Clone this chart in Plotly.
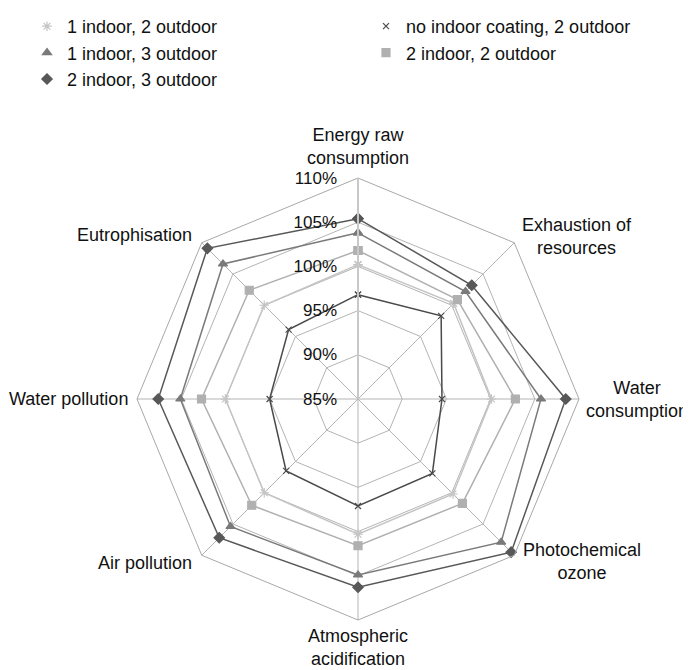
import plotly.graph_objects as go

categories = ["Energy raw consumption", "Exhaustion of resources", "Water consumption",
              "Photochemical ozone", "Atmospheric acidification", "Air pollution",
              "Water pollution", "Eutrophisation"]
category_labels = ["Energy raw<br>consumption", "Exhaustion of<br>resources", "Water<br>consumption",
                   "Photochemical<br>ozone", "Atmospheric<br>acidification", "Air pollution",
                   "Water pollution", "Eutrophisation"]

series_names = ["1 indoor, 2 outdoor", "no indoor coating, 2 outdoor", "1 indoor, 3 outdoor",
                "2 indoor, 2 outdoor", "2 indoor, 3 outdoor"]

one_in_two_out = [100.2, 100.3, 100.1, 100.2, 100.3, 100.0, 100.0, 100.0]
no_in_two_out = [96.8, 98.3, 94.5, 96.9, 97.1, 96.5, 95.0, 96.1]
one_in_three_out = [103.8, 102.2, 105.7, 107.9, 104.9, 105.4, 105.1, 106.6]
two_in_two_out = [101.8, 100.9, 102.8, 101.7, 101.6, 102.0, 102.7, 102.4]
two_in_three_out = [105.4, 103.2, 108.5, 109.5, 106.3, 107.2, 107.6, 109.1]

tick_vals = [85, 90, 95, 100, 105, 110]
tick_text = ["85%", "90%", "95%", "100%", "105%", "110%"]

series = [one_in_two_out, no_in_two_out, one_in_three_out, two_in_two_out, two_in_three_out]
colors = ["#c4c4c4", "#4a4a4a", "#7a7a7a", "#b0b0b0", "#585858"]
symbols = ["asterisk-open", "x-thin-open", "triangle-up", "square", "diamond"]
sizes = [8, 6, 8, 8, 8]
legend_ids = ["legend", "legend2", "legend", "legend2", "legend"]

FONT = "Liberation Sans, Arial, sans-serif"
OFF = 8                      # page body margin of the browser
W, H = 691 - OFF, 670 - OFF


def px(x):
    return (x - OFF) / W


def py(y):
    return 1 - (y - OFF) / H


fig = go.Figure()
for name, vals, c, s, sz in zip(series_names, series, colors, symbols, sizes):
    fig.add_trace(go.Scatterpolar(
        r=vals + vals[:1], theta=categories + categories[:1],
        mode="lines+markers", name=name, showlegend=False,
        line=dict(color=c, width=1.5),
        marker=dict(symbol=s, size=sz, color=c, line=dict(color=c, width=1.2)),
    ))
# legend entries (marker only)
for name, c, s, sz, lg in zip(series_names, colors, symbols, sizes, legend_ids):
    fig.add_trace(go.Scatterpolar(
        r=[None], theta=[categories[0]], mode="markers", name=name, legend=lg,
        marker=dict(symbol=s, size=sz, color=c, line=dict(color=c, width=1.2)),
    ))

# category label placement (screen-pixel centres of each text block)
label_pos = [(358, 146, "center"), (577, 236, "center"), (637, 400, "center"),
             (582, 561, "center"), (358, 647, "center"), (194, 563, "right"),
             (130, 399, "right"), (194, 235, "right")]
annotations = []
for lab, (lx, ly, anc) in zip(category_labels, label_pos):
    annotations.append(dict(
        text=lab, x=px(lx), y=py(ly), xref="paper", yref="paper",
        xanchor=anc, yanchor="middle", align="center", showarrow=False,
        font=dict(size=18, color="#111111", family=FONT)))

legend_common = dict(orientation="v", yanchor="top", xanchor="left",
                     font=dict(size=18, color="#111111", family=FONT),
                     bgcolor="rgba(0,0,0,0)")

fig.update_layout(
    width=W, height=H,
    margin=dict(l=0, r=0, t=0, b=0),
    paper_bgcolor="white",
    font=dict(family=FONT, size=18, color="#111111"),
    legend=dict(x=19 / W, y=1.0, **legend_common),
    legend2=dict(x=358 / W, y=1.0, **legend_common),
    annotations=annotations,
    polar=dict(
        domain=dict(x=[px(137), px(579)], y=[py(620), py(178)]),
        bgcolor="white",
        gridshape="linear",
        radialaxis=dict(range=[85, 110], tickvals=tick_vals, ticktext=tick_text,
                        angle=90, tickangle=90, side="counterclockwise",
                        showline=True, linecolor="#c8c8c8", linewidth=2,
                        gridcolor="#b4b4b4", gridwidth=1,
                        ticks="outside", ticklen=14, tickcolor="rgba(0,0,0,0)",
                        tickfont=dict(size=17, color="#111111")),
        angularaxis=dict(rotation=90, direction="clockwise",
                         showline=True, linecolor="#a8a8a8", linewidth=1,
                         gridcolor="#b4b4b4", gridwidth=1, ticks="",
                         showticklabels=False),
    ),
)

fig.write_html("out.html")
